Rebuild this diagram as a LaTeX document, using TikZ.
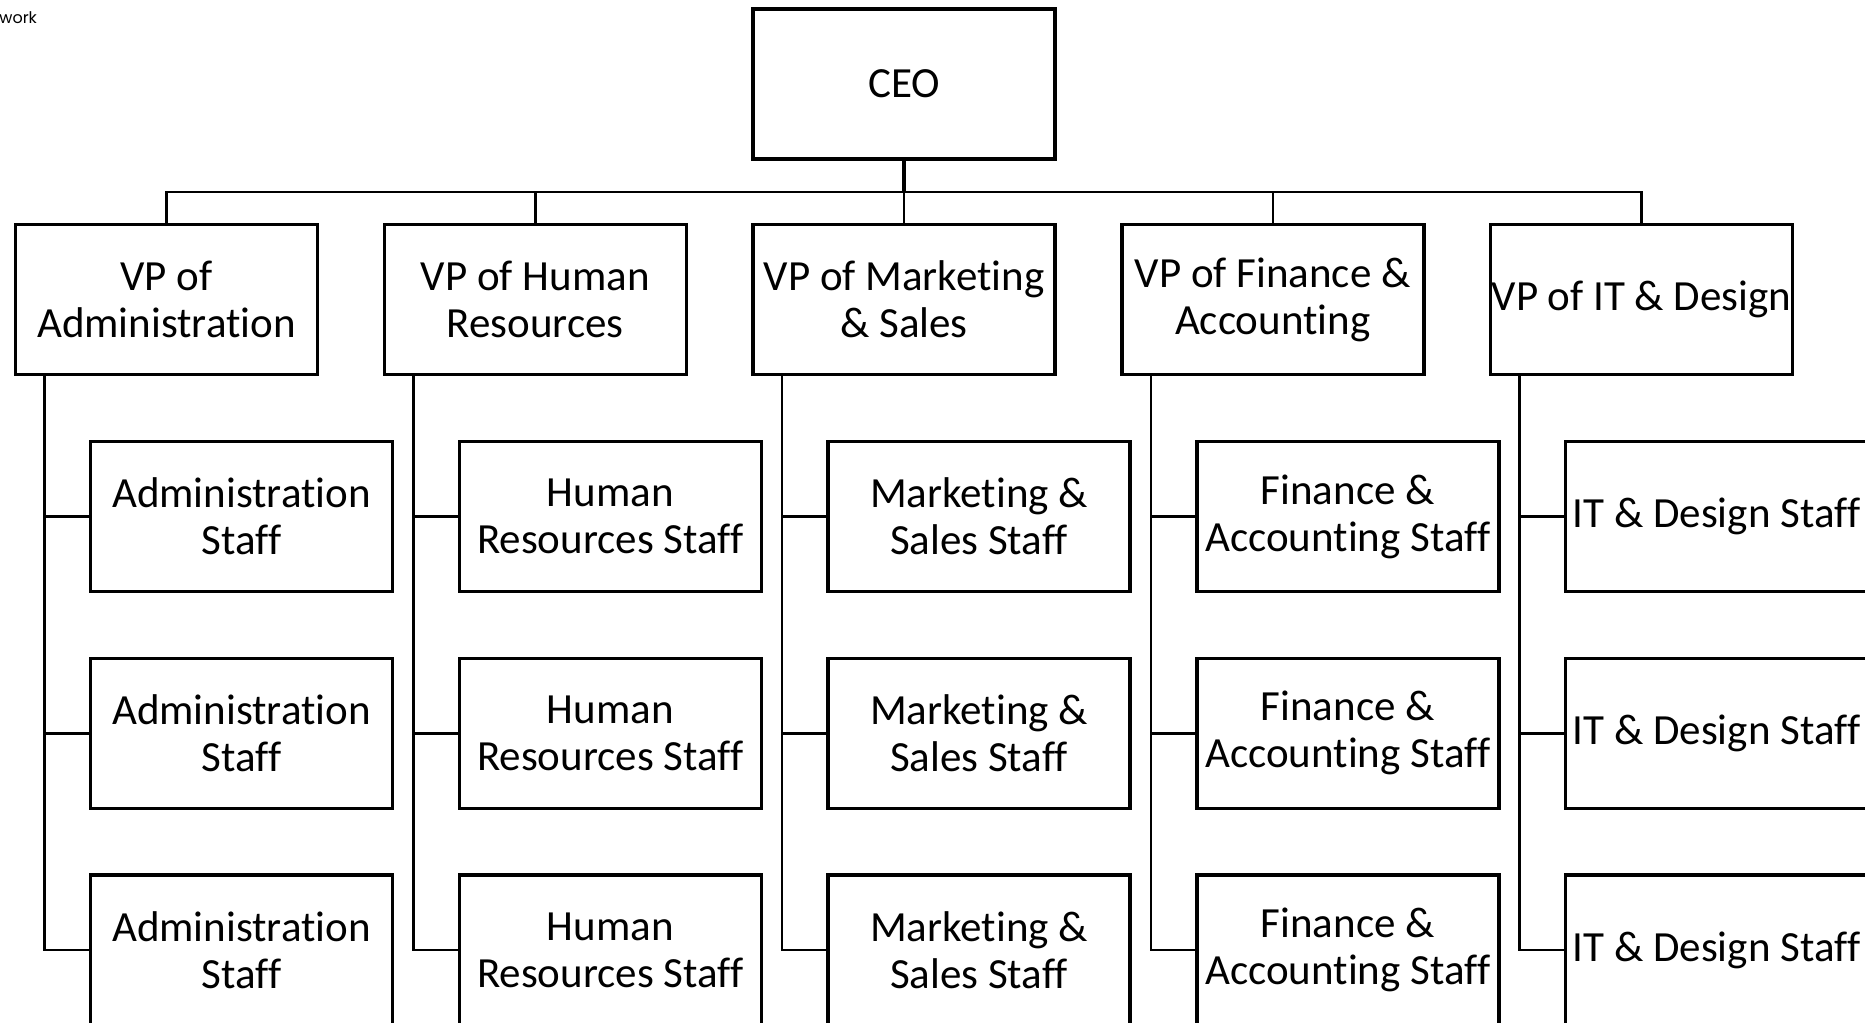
\documentclass[tikz,border=0pt]{standalone}
\usepackage{fontspec}
\setmainfont{Carlito}[Ligatures=NoCommon]
\newfontfamily\logofont{Poppins}
\usetikzlibrary{positioning, calc}

\begin{document}
\begin{tikzpicture}[x=0.5pt, y=-0.5pt, node distance=108.4pt, on grid,
		box/.style={rectangle, draw, line width=1.75pt, minimum width=151pt, minimum height=75pt, inner sep=0pt, align=center, font=\fontsize{21.5pt}{23.5pt}\selectfont},
		link/.style={line width=1.25pt}]
		\useasboundingbox (0,0) rectangle (1865,1023);
		% logo remnant
		\node[anchor=west, inner sep=0pt, font=\logofont\fontsize{8pt}{9pt}\selectfont] (logo) at (-1,18) {work};
		% ceo
		\node[box] (ceo) at (904,84) {CEO};
		% vice presidents
		\node[box, below=107.75pt of ceo] (vp3) {VP of Marketing\\\& Sales};
		\node[box, left=184.375pt of vp3] (vp2) {VP of Human\\Resources};
		\node[box, left=184.375pt of vp2] (vp1) {VP of\\Administration};
		\node[box, right=184.375pt of vp3] (vp4) {VP of Finance \&\\Accounting};
		\node[box, right=184.375pt of vp4] (vp5) {VP of IT \& Design};
		% staff - administration
		\node[box, below right=108.5pt and 37.5pt of vp1] (s11) {Administration\\Staff};
		\node[box, below=of s11] (s12) {Administration\\Staff};
		\node[box, below=of s12] (s13) {Administration\\Staff};
		% staff - human resources
		\node[box, below right=108.5pt and 37.5pt of vp2] (s21) {Human\\Resources Staff};
		\node[box, below=of s21] (s22) {Human\\Resources Staff};
		\node[box, below=of s22] (s23) {Human\\Resources Staff};
		% staff - marketing
		\node[box, below right=108.5pt and 37.5pt of vp3] (s31) {Marketing \&\\Sales Staff};
		\node[box, below=of s31] (s32) {Marketing \&\\Sales Staff};
		\node[box, below=of s32] (s33) {Marketing \&\\Sales Staff};
		% staff - finance
		\node[box, below right=108.5pt and 37.5pt of vp4] (s41) {Finance \&\\Accounting Staff};
		\node[box, below=of s41] (s42) {Finance \&\\Accounting Staff};
		\node[box, below=of s42] (s43) {Finance \&\\Accounting Staff};
		% staff - it
		\node[box, below right=108.5pt and 37.5pt of vp5] (s51) {IT \& Design Staff};
		\node[box, below=of s51] (s52) {IT \& Design Staff};
		\node[box, below=of s52] (s53) {IT \& Design Staff};
		% bus between ceo and vps
		\coordinate (bus) at ($(ceo.south)!0.5!(vp3.north)$);
		\draw[line width=1.75pt] (ceo.south) -- (bus);
		\draw[link] (vp1.north) |- (bus) -| (vp5.north);
		\draw[link] (vp2.north) -- (vp2.north |- bus);
		\draw[link] (vp3.north) -- (bus);
		\draw[link] (vp4.north) -- (vp4.north |- bus);
		% spines below the vps
		\coordinate (t1) at ($(vp1.south)+(-122,0)$);
		\coordinate (t2) at ($(vp2.south)+(-122,0)$);
		\coordinate (t3) at ($(vp3.south)+(-122,0)$);
		\coordinate (t4) at ($(vp4.south)+(-122,0)$);
		\coordinate (t5) at ($(vp5.south)+(-122,0)$);
		\draw[link] (t1) |- (s13.west);
		\draw[link] (t2) |- (s23.west);
		\draw[link] (t3) |- (s33.west);
		\draw[link] (t4) |- (s43.west);
		\draw[link] (t5) |- (s53.west);
		% branches to the staff
		\draw[link] (s11.west) -- (s11.west -| t1);
		\draw[link] (s12.west) -- (s12.west -| t1);
		\draw[link] (s21.west) -- (s21.west -| t2);
		\draw[link] (s22.west) -- (s22.west -| t2);
		\draw[link] (s31.west) -- (s31.west -| t3);
		\draw[link] (s32.west) -- (s32.west -| t3);
		\draw[link] (s41.west) -- (s41.west -| t4);
		\draw[link] (s42.west) -- (s42.west -| t4);
		\draw[link] (s51.west) -- (s51.west -| t5);
		\draw[link] (s52.west) -- (s52.west -| t5);
	\end{tikzpicture}
\end{document}
